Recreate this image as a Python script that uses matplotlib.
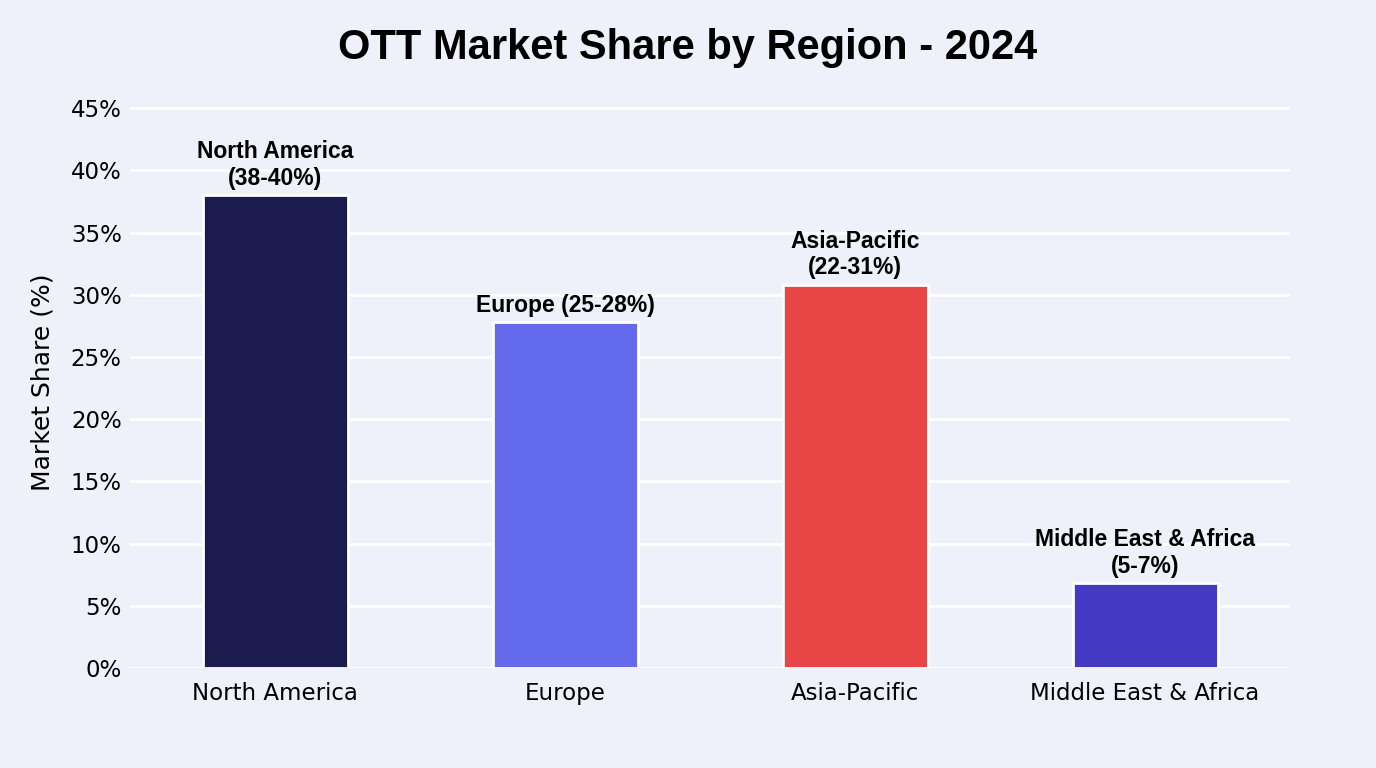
import matplotlib.pyplot as plt
import numpy as np

regions = ['North America', 'Europe', 'Asia-Pacific', 'Middle East & Africa']
share = [38.0, 27.8, 30.8, 6.8]
bar_labels = ['North America\n(38-40%)', 'Europe (25-28%)', 'Asia-Pacific\n(22-31%)', 'Middle East & Africa\n(5-7%)']
colors = ['#1b1b50', '#636bec', '#e84646', '#4339c2']
yticks = [0, 5, 10, 15, 20, 25, 30, 35, 40, 45]

bg = '#eef0fa'

fig = plt.figure(figsize=(13.76, 7.68), dpi=100, facecolor=bg)
ax = fig.add_axes([0.0945, 0.1302, 0.843, 0.745])
ax.set_facecolor(bg)

x = np.arange(len(regions))
bars = ax.bar(x, share, width=0.5, color=colors, edgecolor='white', linewidth=2, zorder=3)

# labels above bars
for b, lab in zip(bars, bar_labels):
    ax.annotate(lab, (b.get_x() + b.get_width() / 2, b.get_height()),
                xytext=(0, 4), textcoords='offset points', ha='center', va='bottom',
                fontsize=16.5, fontweight='bold', family='Liberation Sans', zorder=4)

ax.set_xlim(-0.5, 3.5)
ax.set_ylim(0, 46)
ax.set_xticks(x)
ax.set_xticklabels(regions, fontsize=16.5)
ax.set_yticks(yticks)
ax.set_yticklabels([str(t) + '%' for t in yticks], fontsize=16.5)
ax.tick_params(axis='y', length=0, pad=6)
ax.tick_params(axis='x', length=0, pad=10)
ax.yaxis.grid(True, color='white', linewidth=2, zorder=0)
ax.set_axisbelow(True)
for s in ax.spines.values():
    s.set_visible(False)

ax.set_ylabel('Market Share (%)', fontsize=18, labelpad=12)
fig.text(0.5, 0.938, 'OTT Market Share by Region - 2024', ha='center', va='center',
         fontsize=30, fontweight='bold', family='Liberation Sans')

plt.savefig('out.png', dpi=100, facecolor=bg)
